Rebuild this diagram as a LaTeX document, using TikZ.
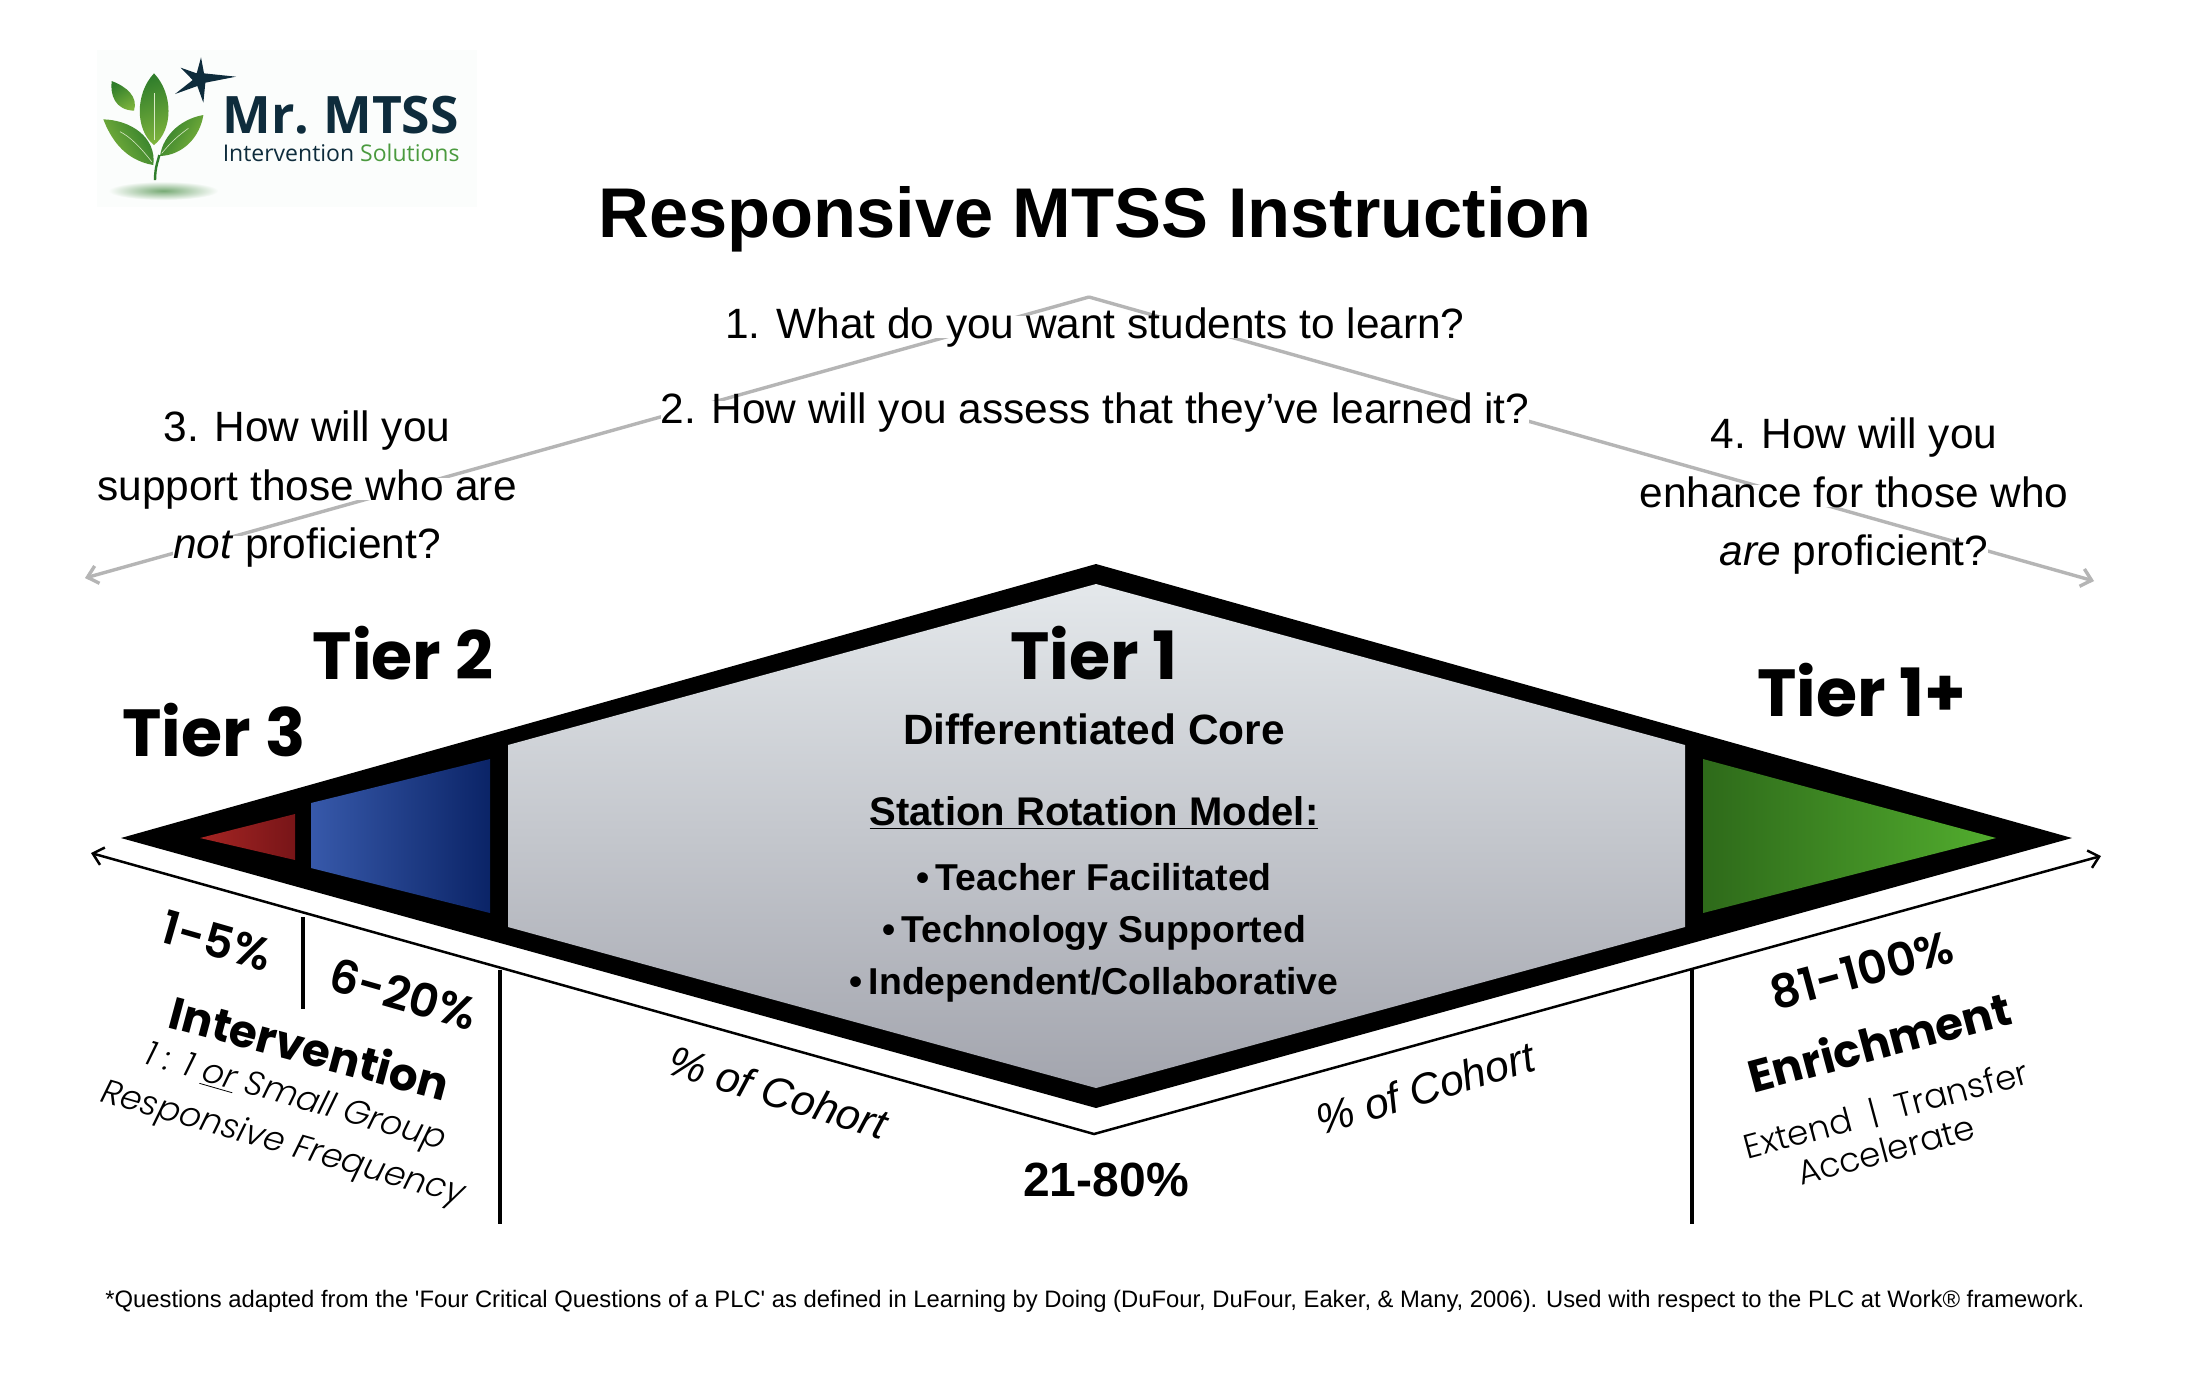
\documentclass[tikz,border=0pt]{standalone}
\usepackage{fontspec}
\setmainfont{Liberation Sans}
\newfontfamily\popfont{Poppins}
\newfontfamily\popsemi{Poppins SemiBold}
\newfontfamily\poplight{Poppins Light}[ItalicFont={Poppins Light Italic}]
\newfontfamily\logofont{Open Sans}
\usetikzlibrary{arrows.meta}
\definecolor{tierred}{HTML}{A52523}
\definecolor{tierredd}{HTML}{781518}
\definecolor{tierblue}{HTML}{3759AA}
\definecolor{tierblued}{HTML}{0B2467}
\definecolor{tiergreen}{HTML}{52AD2E}
\definecolor{tiergreend}{HTML}{2E6A1A}
\definecolor{coretop}{HTML}{E4E8EB}
\definecolor{corebot}{HTML}{A3A5AE}
\definecolor{guidegray}{HTML}{B5B5B5}
\definecolor{logodark}{HTML}{0E2C3C}
\definecolor{logogreen}{HTML}{4A9A3E}
\definecolor{logopanel}{HTML}{FBFDFC}
\definecolor{leaflight}{HTML}{7DB33C}
\definecolor{leafdark}{HTML}{2F7D2B}

\begin{document}
\begin{tikzpicture}[
    x=0.5pt, y=-0.5pt,
    guide/.style={line width=1.7pt, guidegray, -{Straight Barb[length=5pt, width=9pt]}},
    axisline/.style={line width=1.25pt, black, {Straight Barb[length=5pt, width=9pt]}-{Straight Barb[length=5pt, width=9pt]}},
    tick/.style={line width=1.75pt, black},
    question/.style={fill=white, inner sep=0pt, text height=11pt, text depth=0pt, font=\fontsize{21.2}{26}\selectfont},
    tierlabel/.style={font=\popfont\bfseries\fontsize{33.3}{38}\selectfont},
    corelabel/.style={font=\bfseries\selectfont\fontsize{21.2}{25}\selectfont},
    bulletlabel/.style={font=\bfseries\fontsize{18.7}{23}\selectfont},
    cohort/.style={font=\itshape\fontsize{21.4}{25}\selectfont},
    pct/.style={font=\popsemi\fontsize{23}{27}\selectfont},
    heading/.style={font=\popfont\bfseries\fontsize{22.6}{28}\selectfont},
    detail/.style={font=\poplight\fontsize{17}{21}\selectfont},
    leaf/.style={left color=leafdark, right color=leaflight}
]

\useasboundingbox (0,0) rectangle (2189,1389);
\fill[white] (0,0) rectangle (2189,1389);

% Logo
\begin{scope}[shift={(60,30)}, x=0.1667pt, y=-0.1667pt]
    \fill[logopanel] (110,60) rectangle (1250,530);
    \shade[inner color=leafdark!65, outer color=logopanel] (310,482) ellipse (165 and 28);
    % leaves
    \shade[leaf, shading angle=30] (222,242) .. controls (165,240) and (150,195) .. (155,153)
        .. controls (200,170) and (235,200) .. (222,242) -- cycle;
    \shade[leaf, shading angle=20] (282,345) .. controls (225,300) and (225,190) .. (282,130)
        .. controls (340,190) and (340,300) .. (282,345) -- cycle;
    \shade[leaf, shading angle=-60] (280,405) .. controls (190,390) and (150,320) .. (130,268)
        .. controls (210,270) and (290,320) .. (280,405) -- cycle;
    \shade[leaf, shading angle=60] (300,378) .. controls (310,310) and (370,265) .. (430,255)
        .. controls (420,320) and (370,375) .. (300,378) -- cycle;
    \draw[white!70!leaflight, line width=0.3pt] (282,330) -- (282,190);
    \draw[white!70!leaflight, line width=0.3pt] (275,395) .. controls (240,350) and (210,320) .. (180,305);
    \draw[white!70!leaflight, line width=0.3pt] (305,370) .. controls (330,340) and (350,320) .. (385,295);
    \draw[leafdark, line width=1.2pt] (285,450) .. controls (285,410) and (295,390) .. (298,375);
    % star
    \fill[logodark] (423,82) -- (432,130) -- (528,140) -- (436,158) -- (430,218)
        -- (412,168) -- (345,192) -- (398,150) -- (362,113) -- (410,130) -- cycle;
    \node[anchor=base west, inner sep=0pt, text=logodark, font=\logofont\bfseries\fontsize{25.8}{30}\selectfont]
        (logoname) at (487,310) {Mr.\hspace{-2pt} MTSS};
    \node[anchor=base west, inner sep=0pt, text=logodark, font=\logofont\fontsize{11.5}{14}\selectfont]
        (logosub) at (487,393) {Intervention \textcolor{logogreen}{Solutions}};
\end{scope}

% Title
\node[font=\bfseries\fontsize{35.2}{42}\selectfont] (title) at (1095,219) {Responsive MTSS Instruction};

% Guide arrows behind the questions
\coordinate (apex) at (1089,297);
\coordinate (guideL) at (85,578);
\coordinate (guideR) at (2094,581);
\draw[guide] (apex) -- (guideL);
\draw[guide] (apex) -- (guideR);

% Questions
\node[question] (q1) at (1095,327) {1. What do you want students to learn?};
\node[question] (q2) at (1095,412) {2. How will you assess that they’ve learned it?};
\node[question] (q3a) at (307,430) {3. How will you};
\node[question] (q3b) at (307,489) {support those who are};
\node[question] (q3c) at (307,547) {\textit{not} proficient?};
\node[question] (q4a) at (1854,437) {4. How will you};
\node[question] (q4b) at (1854,496) {enhance for those who};
\node[question] (q4c) at (1854,554) {\textit{are} proficient?};

% Diamond
\coordinate (tipL) at (121,838);
\coordinate (tipR) at (2072,838);
\coordinate (top) at (1096,564);
\coordinate (bot) at (1096,1108);
\fill[black] (tipL) -- (top) -- (tipR) -- (bot) -- cycle;

% Tier 3, Tier 2, Tier 1+ and the core
\shade[left color=tierred, right color=tierredd] (200,838) -- (295,814) -- (295,860) -- cycle;
\shade[left color=tierblue, right color=tierblued] (311,803) -- (490,759) -- (490,913) -- (311,868) -- cycle;
\shade[left color=tiergreend, right color=tiergreen] (1703,759) -- (1996,838) -- (1703,913) -- cycle;
\shade[top color=coretop, bottom color=corebot] (508,745) -- (1096,584) -- (1685,745)
    -- (1685,927) -- (1096,1088) -- (508,927) -- cycle;

% Tier labels
\node[tierlabel] (tier3) at (214,730) {Tier 3};
\node[tierlabel] (tier2) at (403,653) {Tier 2};
\node[tierlabel] (tier1) at (1094,653) {Tier 1};
\node[tierlabel] (tierplus) at (1862,690) {Tier 1+};

% Core text
\node[corelabel] (core) at (1094,729) {Differentiated Core};
\node[corelabel, font=\bfseries\fontsize{20}{24}\selectfont] (station) at (1094,813) {\underline{Station Rotation Model:}};
\node[bulletlabel] (b1) at (1094,877) {•\,Teacher Facilitated};
\node[bulletlabel] (b2) at (1094,933) {•\,Technology Supported};
\node[bulletlabel] (b3) at (1094,985) {•\,Independent/Collaborative};

% Axis
\coordinate (axisL) at (91,853);
\coordinate (axisM) at (1094,1134);
\coordinate (axisR) at (2101,856);
\draw[axisline] (axisL) -- (axisM) -- (axisR);

% Ticks
\coordinate (t1) at (303,917);
\coordinate (t1e) at (303,1009);
\coordinate (t2) at (500,970);
\coordinate (t2e) at (500,1224);
\coordinate (t3) at (1692,970);
\coordinate (t3e) at (1692,1224);
\draw[tick] (t1) -- (t1e);
\draw[tick] (t2) -- (t2e);
\draw[tick] (t3) -- (t3e);

% Labels under the axis, left
\node[pct, rotate=-16] (p1) at (217,941) {1-5\%};
\node[pct, rotate=-16] (p2) at (403,994) {6-20\%};
\node[heading, rotate=-15] (interv) at (310,1047) {Intervention};
\node[detail, rotate=-16] (d1) at (295,1099) {\textit{1 : 1 \underline{or} Small Group}};
\node[detail, rotate=-16] (d2) at (283,1145) {\textit{Responsive Frequency}};
\node[cohort, rotate=-17] (cohortL) at (778,1092) {\% of Cohort};

% Labels under the axis, right
\node[cohort, rotate=17] (cohortR) at (1425,1088) {\% of Cohort};
\node[font=\bfseries\fontsize{24}{28}\selectfont] (midpct) at (1106,1180) {21-80\%};
\node[pct, rotate=15] (p3) at (1862,970) {81-100\%};
\node[heading, rotate=15] (enrich) at (1879,1041) {Enrichment};
\node[detail, rotate=15] (d3) at (1886,1110) {Extend\ \ |\ \ Transfer};
\node[detail, rotate=15] (d4) at (1886,1150) {Accelerate};

% Footnote
\node[font=\fontsize{11.9}{15}\selectfont] (foot) at (1095,1301)
    {*Questions adapted from the \textquotesingle Four Critical Questions of a PLC\textquotesingle{} as defined in Learning by Doing (DuFour, DuFour, Eaker, \& Many, 2006). Used with respect to the PLC at Work® framework.};

\end{tikzpicture}
\end{document}
